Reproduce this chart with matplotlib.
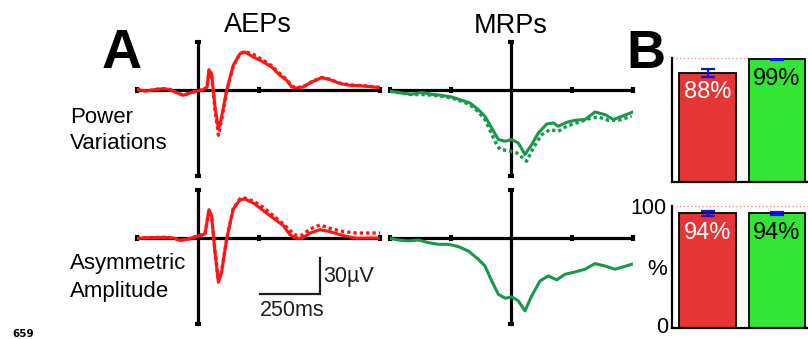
import matplotlib
matplotlib.use("Agg")
import matplotlib.pyplot as plt
import numpy as np

plt.rcParams['font.family'] = ['Liberation Sans', 'DejaVu Sans']

# ---------------- data ----------------
# AEPs (time in ms, amplitude in µV)
aep_pow_t = [-250, -210, -169, -141, -114, -87, -59, -32, -4, 23, 39, 46, 57, 71, 85, 98, 119, 146,
             174, 194, 229, 270, 304, 338, 366, 386, 407, 434, 469, 510, 544, 585, 626, 681, 750]
aep_pow_solid = [0.6, -0.6, 0.8, 1.4, 0.6, -1.9, -4.2, -2.2, -0.6, 0.6, 2.8, 17.2, 13.9, -13.9, -31.9,
                 -22.2, 0.0, 20.8, 30.6, 31.9, 27.8, 23.6, 19.4, 12.5, 8.3, 2.8, 1.9, 2.8, 6.9, 10.6,
                 8.9, 5.6, 4.2, 3.6, 2.2]
aep_pow_dotted = [0.6, -0.6, 0.8, 1.4, 0.6, -1.9, -4.2, -2.2, -0.6, 0.6, 2.8, 16.0, 12.5, -16.0, -37.5,
                  -25.0, -1.0, 20.0, 30.6, 32.5, 30.0, 25.0, 20.5, 14.0, 9.0, 3.5, 2.2, 3.0, 7.2, 10.8,
                  9.2, 6.0, 4.6, 3.8, 2.5]

aep_asym_t = [-250, -197, -141, -100, -73, -39, -4, 30, 46, 57, 71, 85, 98, 119, 146, 174, 194, 229,
              270, 311, 352, 380, 407, 428, 462, 503, 544, 599, 654, 709, 750]
aep_asym_solid = [0.0, 0.6, 0.8, 0.3, -1.7, -0.6, 1.7, 3.6, 23.9, 18.9, -11.7, -36.7, -28.3, -0.6,
                  24.4, 32.2, 32.8, 29.4, 23.1, 16.7, 10.6, 2.8, 0.0, 0.0, 4.4, 7.2, 5.6, 2.2, 0.0,
                  0.3, 0.0]
aep_asym_dotted = [0.0, 0.6, 0.8, 0.3, -1.7, -0.6, 1.7, 3.6, 23.0, 18.0, -11.0, -35.5, -27.5, -0.6,
                   25.0, 33.0, 33.6, 31.0, 25.8, 18.9, 12.0, 6.4, 2.2, 2.5, 7.8, 11.1, 8.3, 5.6, 4.4,
                   4.4, 4.4]

# MRPs (time in ms, amplitude in µV)
mrp_pow_t = [-1000, -904, -821, -739, -657, -574, -492, -410, -342, -273, -218, -163, -108, -53, 2,
             56, 111, 166, 221, 290, 344, 385, 454, 523, 605, 687, 770, 838, 907, 1000]
mrp_pow_solid = [-0.8, -2.2, -3.3, -1.7, -3.3, -4.2, -5.6, -8.3, -10.6, -16.1, -21.7, -31.4, -41.1,
                 -42.5, -41.1, -43.9, -53.6, -45.3, -35.6, -28.1, -27.2, -30.0, -26.7, -25.0, -24.4,
                 -18.1, -20.3, -24.4, -21.7, -18.1]
mrp_pow_dot_t = [-1000, -904, -821, -712, -630, -574, -492, -410, -342, -273, -218, -136, -95, -26,
                 43, 125, 180, 248, 317, 385, 454, 550, 632, 714, 797, 879, 989]
mrp_pow_dotted = [-0.8, -2.4, -3.6, -3.6, -4.4, -5.0, -6.4, -9.2, -12.0, -18.0, -24.4, -42.5, -49.4,
                  -50.3, -52.2, -59.2, -48.0, -37.0, -32.8, -34.2, -30.0, -26.7, -23.9, -22.2, -25.0,
                  -25.0, -21.7]

mrp_asym_t = [-1000, -932, -849, -767, -685, -602, -520, -438, -355, -273, -218, -163, -108, -53, 2,
              56, 111, 166, 235, 303, 372, 440, 523, 605, 687, 770, 852, 989]
mrp_asym_solid = [0.0, -1.4, -2.2, -1.4, -3.6, -5.0, -5.0, -6.9, -10.6, -17.5, -23.1, -35.6, -46.7,
                  -50.0, -48.9, -52.2, -60.6, -48.0, -35.6, -31.4, -34.7, -30.0, -28.1, -25.8, -21.1,
                  -23.1, -25.8, -21.7]

# Panel B (classification accuracy, %)
bar_categories = ['AEPs', 'MRPs']
power_acc = [88, 99]
power_err = [3.5, 0.8]
asym_acc = [94, 94]
asym_err = [2.0, 1.0]

# ---------------- styling ----------------
W, H = 808, 339
RED_LINE = '#FF1414'
GREEN_LINE = '#17994A'
BAR_RED = '#E53535'
BAR_GREEN = '#33E633'
YLIM = (-71.5, 40.3)

fig = plt.figure(figsize=(W / 100, H / 100), dpi=100)


def px_axes(x0, y0, x1, y1):
    return fig.add_axes([x0 / W, 1 - y1 / H, (x1 - x0) / W, (y1 - y0) / H])


def style_erp(ax, xlim, xticks):
    ax.set_xlim(*xlim)
    ax.set_ylim(*YLIM)
    for s in ['top', 'right']:
        ax.spines[s].set_visible(False)
    ax.spines['left'].set_position(('data', 0))
    ax.spines['bottom'].set_position(('data', 0))
    for s in ['left', 'bottom']:
        ax.spines[s].set_linewidth(2.3)
        ax.spines[s].set_color('black')
        ax.spines[s].set_capstyle('butt')
    ax.set_xticks(xticks)
    ax.set_yticks(list(YLIM))
    ax.tick_params(direction='inout', length=4, width=3, labelbottom=False, labelleft=False,
                   color='black')
    ax.patch.set_alpha(0)


dot_style = (0, (1.0, 0.9))

# AEP power
ax1 = px_axes(137, 42, 380, 176)
style_erp(ax1, (-250, 750), [-250, 250, 750])
ax1.plot(aep_pow_t, aep_pow_dotted, color=RED_LINE, lw=2.4, ls=dot_style, zorder=3)
ax1.plot(aep_pow_t, aep_pow_solid, color=RED_LINE, lw=2.2, zorder=4, solid_joinstyle='round')

# MRP power
ax2 = px_axes(390, 42, 633, 176)
style_erp(ax2, (-1000, 1000), [-1000, -500, 500, 1000])
ax2.plot(mrp_pow_dot_t, mrp_pow_dotted, color=GREEN_LINE, lw=2.4, ls=dot_style, zorder=3)
ax2.plot(mrp_pow_t, mrp_pow_solid, color=GREEN_LINE, lw=2.2, zorder=4, solid_joinstyle='round')

# AEP asymmetry
ax3 = px_axes(137, 190, 380, 324)
style_erp(ax3, (-250, 750), [-250, 250, 750])
ax3.plot(aep_asym_t, aep_asym_dotted, color=RED_LINE, lw=2.4, ls=dot_style, zorder=3)
ax3.plot(aep_asym_t, aep_asym_solid, color=RED_LINE, lw=2.2, zorder=4, solid_joinstyle='round')

# MRP asymmetry
ax4 = px_axes(390, 190, 633, 324)
style_erp(ax4, (-1000, 1000), [-1000, -500, 500, 1000])
ax4.plot(mrp_asym_t, mrp_asym_solid, color=GREEN_LINE, lw=2.2, zorder=4, solid_joinstyle='round')

# scale bar (250 ms, 30 µV)
SB_T, SB_V = 250, 30
sb_x1, sb_y0 = 505, -46.5
ax3.plot([sb_x1 - SB_T, sb_x1, sb_x1], [sb_y0, sb_y0, sb_y0 + SB_V], color='#231F20', lw=1.6,
         clip_on=False, solid_joinstyle='miter')
ax3.text(sb_x1 + 12, sb_y0 + SB_V / 2, '30µV', ha='left', va='center', fontsize=15.5,
         color='#231F20')
ax3.text(sb_x1 - SB_T / 2 + 10, sb_y0 - 5, '250ms', ha='center', va='top', fontsize=15.5,
         color='#231F20')

# ---------------- panel B bars ----------------
def style_bar(ax, labels):
    ax.set_xlim(-0.511, 1.446)
    ax.set_ylim(0, 100)
    for s in ['top', 'right']:
        ax.spines[s].set_visible(False)
    for s in ['left', 'bottom']:
        ax.spines[s].set_linewidth(1.6)
    ax.set_xticks([])
    ax.axhline(100, color='#F08080', lw=0.9, ls=(0, (1, 2)), zorder=0, clip_on=False)
    if labels:
        ax.set_yticks([0, 100])
        ax.set_yticklabels(['', '100'], fontsize=15.5)
        ax.tick_params(axis='y', length=0, pad=4)
        ax.annotate('0', xy=(0, 0), xycoords='axes fraction', xytext=(-3, -3.3),
                    textcoords='offset points', ha='right', va='baseline', fontsize=15.5)
    else:
        ax.set_yticks([])
    ax.patch.set_alpha(0)


def draw_bars(ax, vals, errs):
    x = np.arange(len(bar_categories))
    ax.bar(x, vals, width=0.82, color=[BAR_RED, BAR_GREEN], edgecolor='black', linewidth=1.3,
           zorder=2)
    ax.errorbar(x, vals, yerr=errs, fmt='none', ecolor='#1010EE', elinewidth=1.6, capsize=5,
                capthick=1.6, zorder=3)
    for xi, v, c in zip(x, vals, ['white', 'black']):
        ax.annotate(f'{v}%', (xi, v), xytext=(0, -6), textcoords='offset points', ha='center',
                    va='top', fontsize=17, color=c, zorder=4)


axb1 = px_axes(672, 58, 808, 182)
style_bar(axb1, False)
draw_bars(axb1, power_acc, power_err)

axb2 = px_axes(672, 206, 808, 328)
style_bar(axb2, True)
draw_bars(axb2, asym_acc, asym_err)
axb2.text(-0.035, 0.48, '%', transform=axb2.transAxes, ha='right', va='center', fontsize=16)

# ---------------- text labels ----------------
fig.text(102 / W, 1 - 68 / H, 'A', fontsize=40, fontweight='bold', ha='left', va='baseline')
fig.text(626 / W, 1 - 68 / H, 'B', fontsize=39, fontweight='bold', ha='left', va='baseline')
fig.text(258 / W, 1 - 32 / H, 'AEPs', fontsize=19.5, ha='center', va='baseline')
fig.text(511 / W, 1 - 33 / H, 'MRPs', fontsize=19.5, ha='center', va='baseline')
fig.text(70 / W, 1 - 123 / H, 'Power', fontsize=16, ha='left', va='baseline')
fig.text(70 / W, 1 - 149 / H, 'Variations', fontsize=16, ha='left', va='baseline')
fig.text(70 / W, 1 - 269 / H, 'Asymmetric', fontsize=16, ha='left', va='baseline')
fig.text(70 / W, 1 - 297 / H, 'Amplitude', fontsize=16, ha='left', va='baseline')
fig.text(12 / W, 1 - 337 / H, '659', fontsize=7.5, fontweight='bold', family='DejaVu Sans',
         ha='left', va='baseline')

fig.savefig('out.png', dpi=100)
